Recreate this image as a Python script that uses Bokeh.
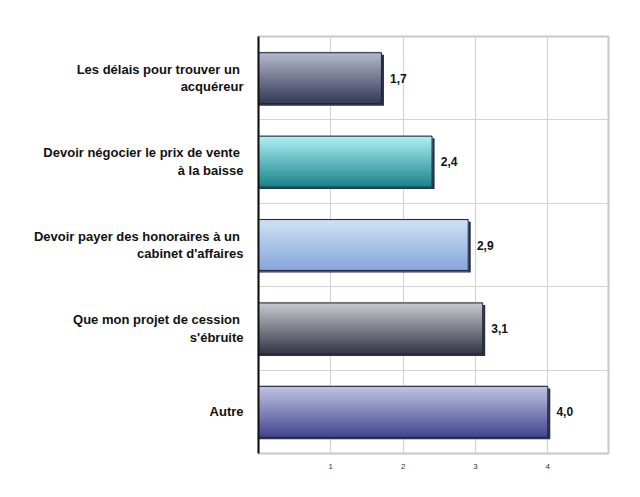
import numpy as np
from bokeh.plotting import figure
from bokeh.models import FixedTicker, ColumnDataSource
from bokeh.core.properties import value
from bokeh.embed import file_html
from bokeh.resources import INLINE

categories = [
    "Les délais pour trouver un \nacquéreur",
    "Devoir négocier le prix de vente \nà la baisse",
    "Devoir payer des honoraires à un \ncabinet d'affaires",
    "Que mon projet de cession \ns'ébruite",
    "Autre",
]
values = [1.7, 2.4, 2.9, 3.1, 4.0]
value_labels = ["1,7", "2,4", "2,9", "3,1", "4,0"]
top_colors = ["#b8bccf", "#b4f2f6", "#d2e2f6", "#cbccd4", "#c4c7e6"]
bottom_colors = ["#363b58", "#1b868e", "#86a8da", "#363948", "#454890"]
x_ticks = [1, 2, 3, 4]

n = len(categories)
ypos = [n - 1 - i for i in range(n)]  # top category first

p = figure(width=624, height=481, x_range=(0, 4.84), y_range=(-0.5, n - 0.5),
           output_backend="svg", toolbar_location=None)
p.min_border_left = 258
p.min_border_right = 16
p.min_border_top = 36
p.min_border_bottom = 28
p.background_fill_color = "white"
p.border_fill_color = "white"
p.outline_line_color = "#c8c8c8"
p.outline_line_width = 2

# axes
p.xaxis.ticker = FixedTicker(ticks=x_ticks)
p.xaxis.axis_line_color = None
p.xaxis.major_tick_line_color = None
p.xaxis.minor_tick_line_color = None
p.xaxis.major_label_text_font = "Liberation Sans"
p.xaxis.major_label_text_font_size = "8px"
p.xaxis.major_label_text_color = "#333333"
p.xaxis.major_label_standoff = 4

p.yaxis.ticker = FixedTicker(ticks=ypos)
p.yaxis.major_label_overrides = {yy: c for yy, c in zip(ypos, categories)}
p.yaxis.axis_line_color = "#111111"
p.yaxis.axis_line_width = 2
p.yaxis.major_tick_line_color = None
p.yaxis.minor_tick_line_color = None
p.yaxis.major_label_text_font = "Liberation Sans"
p.yaxis.major_label_text_font_style = "bold"
p.yaxis.major_label_text_font_size = "13px"
p.yaxis.major_label_text_color = "#111111"
p.yaxis.major_label_standoff = 9
p.yaxis.major_label_text_line_height = 1.15

p.xgrid.ticker = FixedTicker(ticks=x_ticks)
p.xgrid.grid_line_color = "#d4d4d4"
p.xgrid.grid_line_width = 1.2
p.ygrid.ticker = FixedTicker(ticks=[k + 0.5 for k in range(n - 1)])
p.ygrid.grid_line_color = "#d4d4d4"
p.ygrid.grid_line_width = 1.2

bar_h = 0.61
# 3D shadow
p.hbar(y=[yy - 0.025 for yy in ypos], left=0, right=[v + 0.035 for v in values],
       height=bar_h, fill_color="#2a2f45", line_color=None)

# gradient stripes
N = 24
def hex2rgb(h):
    return np.array([int(h[i:i + 2], 16) for i in (1, 3, 5)], dtype=float)

sy, sr, sc = [], [], []
for yy, v, tc, bc in zip(ypos, values, top_colors, bottom_colors):
    t, b = hex2rgb(tc), hex2rgb(bc)
    for k in range(N):
        f = (k + 0.5) / N
        c = t + (b - t) * f
        sy.append(yy + bar_h / 2 - (k + 0.5) * bar_h / N)
        sr.append(v)
        sc.append("#%02x%02x%02x" % tuple(int(round(x)) for x in c))
p.hbar(y=sy, left=0, right=sr, height=bar_h / N * 1.6, fill_color=sc,
       line_color=sc, line_width=0.6)
# outline
p.hbar(y=ypos, left=0, right=values, height=bar_h, fill_color=None,
       line_color="#1e2236", line_width=1)

src = ColumnDataSource(dict(x=[v + 0.12 for v in values], y=ypos, t=value_labels))
p.text(x="x", y="y", text="t", source=src, text_font=value("Liberation Sans"),
       text_font_style="bold", text_font_size="12px", text_color="#111111",
       text_baseline="middle", text_align="left")

open("out.html", "w").write(file_html(p, INLINE))
